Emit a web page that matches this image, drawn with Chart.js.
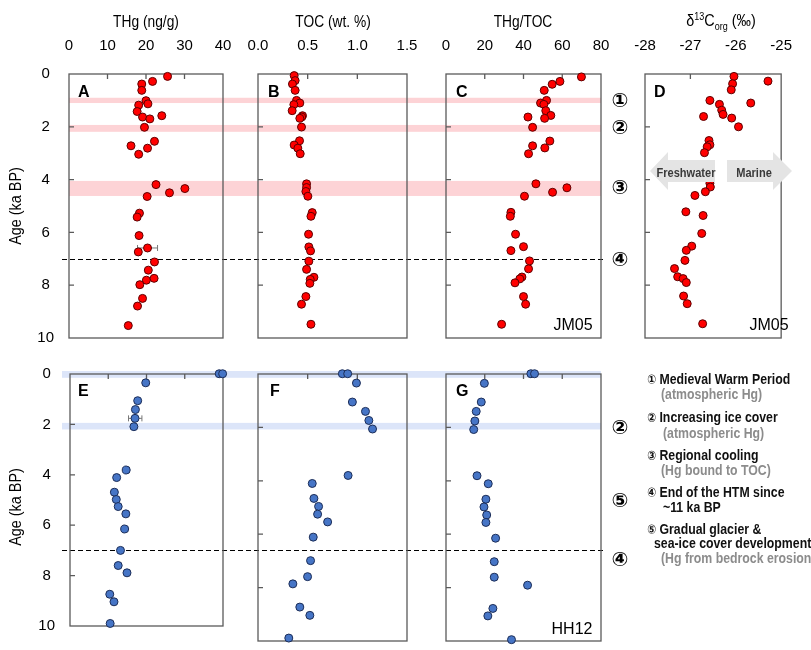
<!DOCTYPE html>
<html>
<head>
<meta charset="utf-8">
<script src="https://cdn.jsdelivr.net/npm/chart.js@4.4.0/dist/chart.umd.min.js"></script>
<style>
  body { margin: 0; background: #fff; }
  #fig { position: relative; width: 811px; height: 650px; overflow: hidden;
         font-family: "Liberation Sans Narrow", "Arial Narrow", "Liberation Sans", Arial, sans-serif; }
  #fig canvas { position: absolute; left: 0; top: 0; }
  .t { position: absolute; white-space: nowrap; line-height: 1; }
  .title { font-size: 16px; color: #000; }
  .panel { font-family: "Liberation Sans", Arial, sans-serif; font-weight: bold; font-size: 16px; }
  .core { font-family: "Liberation Sans", Arial, sans-serif; font-size: 16px; }
  .circ { font-family: "DejaVu Sans", sans-serif; font-size: 20px; font-weight: bold; }
  .leg { font-size: 15px; font-weight: bold; color: #111; }
  .leg .n { font-family: "DejaVu Sans", sans-serif; font-size: 13px; }
  .gray { color: #8c8c8c; }
  .arrow { position: absolute; background: #e4e4e4; }
  .arrtxt { font-size: 13px; font-weight: bold; color: #3a3a3a; }
</style>
</head>
<body>
<div id="fig"></div>
<script>
// ---- JM05 core (top row) ----
const ageA = [0.09, 0.28, 0.38, 0.62, 1.01, 1.13, 1.18, 1.42, 1.63, 1.70, 1.58, 2.02, 2.55, 2.72, 2.81, 3.04,
  4.19, 4.34, 4.50, 4.64, 5.27, 5.42, 6.12, 6.59, 6.74, 7.12, 7.43, 7.74, 7.81, 7.98, 8.50, 8.79, 9.53];
const thgA = [25.6, 21.7, 18.9, 18.9, 20.0, 20.5, 18.1, 17.7, 19.1, 21.0, 24.1, 19.6, 22.2, 16.1, 20.4, 18.1,
  22.6, 30.1, 26.1, 20.3, 18.3, 17.7, 18.2, 20.4, 18.0, 22.2, 20.6, 22.1, 20.1, 18.4, 19.1, 17.8, 15.4];
const errA = [[6.59, 17.8, 23.0]];

const ageB = [0.06, 0.25, 0.38, 0.62, 1.00, 1.10, 1.16, 1.39, 1.58, 1.63, 1.68, 2.01, 2.53, 2.69, 2.81, 3.02,
  4.16, 4.30, 4.45, 4.63, 5.25, 5.39, 6.07, 6.55, 6.70, 7.09, 7.40, 7.70, 7.78, 7.93, 8.43, 8.72, 9.48];
const tocB = [0.364, 0.374, 0.347, 0.374, 0.388, 0.421, 0.361, 0.344, 0.448, 0.44, 0.421, 0.438, 0.418, 0.364, 0.401, 0.425,
  0.489, 0.489, 0.482, 0.502, 0.546, 0.533, 0.509, 0.512, 0.529, 0.512, 0.489, 0.563, 0.526, 0.522, 0.482, 0.438, 0.533];

const ageC = [0.11, 0.28, 0.39, 0.62, 1.00, 1.10, 1.15, 1.39, 1.57, 1.68, 1.63, 2.02, 2.54, 2.72, 2.80, 3.02,
  4.16, 4.31, 4.48, 4.63, 5.24, 5.39, 6.07, 6.54, 6.69, 7.08, 7.38, 7.69, 7.76, 7.91, 8.43, 8.72, 9.48];
const ratioC = [69.9, 58.8, 54.8, 50.7, 51.9, 48.8, 50.5, 51.5, 54.1, 50.9, 42.3, 44.7, 53.6, 44.7, 51.0, 42.6,
  46.4, 62.4, 55.0, 40.5, 33.5, 33.2, 35.9, 40.0, 33.5, 43.1, 42.6, 39.2, 38.1, 35.6, 40.0, 41.1, 28.7];

const ageD = [0.09, 0.27, 0.37, 0.60, 1.00, 1.10, 1.15, 1.37, 1.53, 1.61, 1.67, 2.00, 2.52, 2.68, 2.76, 2.98,
  4.14, 4.28, 4.46, 4.60, 5.22, 5.36, 6.04, 6.52, 6.68, 7.06, 7.37, 7.68, 7.75, 7.90, 8.41, 8.70, 9.46];
const d13cD = [-26.04, -25.29, -26.07, -26.10, -26.57, -25.67, -26.36, -26.31, -26.28, -26.71, -26.09, -25.94,
  -26.59, -26.57, -26.63, -26.69, -26.57, -26.56, -26.67, -26.90, -27.10, -26.72, -26.75, -26.97, -27.09,
  -27.12, -27.35, -27.28, -27.16, -27.09, -27.15, -27.07, -26.73];

// ---- HH12 core (bottom row) ----
const ageE = [-0.01, -0.01, 0.35, 1.06, 1.41, 1.76, 2.09, 3.81, 4.11, 4.69, 4.98, 5.26, 5.55, 6.15, 7.00, 7.60, 7.89, 8.74, 9.04, 9.90];
const thgE = [39.0, 39.9, 19.8, 17.7, 17.1, 17.0, 16.7, 14.7, 12.2, 11.6, 12.1, 12.6, 14.6, 14.3, 13.2, 12.6, 14.9, 10.4, 11.5, 10.5];
const errE = [[1.76, 15.3, 18.8]];

const ageF = [-0.01, -0.01, 0.34, 1.05, 1.40, 1.74, 2.06, 3.80, 4.10, 4.66, 4.96, 5.25, 5.54, 6.11, 6.99, 7.59, 7.86, 8.73, 9.04, 9.89];
const tocF = [0.849, 0.903, 0.991, 0.950, 1.082, 1.116, 1.153, 0.907, 0.546, 0.563, 0.610, 0.600, 0.701, 0.556, 0.529, 0.499, 0.351, 0.421, 0.522, 0.310];

const ageG = [-0.01, -0.01, 0.35, 1.05, 1.40, 1.76, 2.08, 3.81, 4.11, 4.69, 4.98, 5.28, 5.56, 6.15, 7.03, 7.61, 7.91, 8.78, 9.06, 9.95];
const ratioG = [43.8, 45.7, 19.8, 18.2, 15.6, 14.9, 14.3, 16.0, 21.8, 20.6, 19.6, 21.0, 20.6, 25.6, 24.9, 24.9, 42.1, 24.2, 21.6, 33.8];

// event bands (ka BP) and end of HTM
const pinkBands = [[0.9, 1.1], [1.93, 2.19], [4.05, 4.62]];
const blueBands = [[-0.12, 0.15], [1.94, 2.2]];
const htmEnd = 7;

const fig = document.getElementById("fig");
const RED = { fill: "#ff0000", line: "#5c0000" };
const BLUE = { fill: "#4675c6", line: "#1c2d57" };

const decor = {
  id: "decor",
  beforeDatasetsDraw(chart, args, o) {
    const { ctx, chartArea: a, scales: { x, y } } = chart;
    ctx.save();
    (o.bands || []).forEach(([y0, y1]) => {
      const p0 = y.getPixelForValue(y0), p1 = y.getPixelForValue(y1);
      ctx.fillStyle = o.bandColor;
      ctx.fillRect(o.bandX[0], p0, o.bandX[1] - o.bandX[0], p1 - p0);
    });
    if (o.dashAt != null) {
      const py = Math.round(y.getPixelForValue(o.dashAt)) + 0.5;
      ctx.strokeStyle = "#000";
      ctx.lineWidth = 1.2;
      ctx.setLineDash([5, 3]);
      ctx.beginPath();
      ctx.moveTo(o.dashX[0], py);
      ctx.lineTo(o.dashX[1], py);
      ctx.stroke();
      ctx.setLineDash([]);
    }
    ctx.strokeStyle = "#5a5a5a";
    ctx.lineWidth = 1.3;
    ctx.strokeRect(a.left, a.top, a.right - a.left, a.bottom - a.top);
    ctx.beginPath();
    x.ticks.forEach((t) => {
      if (t.value > x.min && t.value < x.max) {
        const px = x.getPixelForValue(t.value);
        ctx.moveTo(px, a.top);
        ctx.lineTo(px, a.top + 5);
      }
    });
    y.ticks.forEach((t) => {
      if (t.value > y.min && t.value < y.max) {
        const py = y.getPixelForValue(t.value);
        ctx.moveTo(a.left, py);
        ctx.lineTo(a.left + 5, py);
      }
    });
    ctx.stroke();
    // error bars
    ctx.strokeStyle = "#777";
    ctx.lineWidth = 1;
    (o.errors || []).forEach(([age, lo, hi]) => {
      const py = y.getPixelForValue(age);
      const x0 = x.getPixelForValue(lo), x1 = x.getPixelForValue(hi);
      ctx.beginPath();
      ctx.moveTo(x0, py); ctx.lineTo(x1, py);
      ctx.moveTo(x0, py - 3); ctx.lineTo(x0, py + 3);
      ctx.moveTo(x1, py - 3); ctx.lineTo(x1, py + 3);
      ctx.stroke();
    });
    ctx.restore();
  },
};

function makePanel(p) {
  const canvas = document.createElement("canvas");
  canvas.width = 811;
  canvas.height = 650;
  fig.appendChild(canvas);
  const [L, T, R, B] = p.box;
  const YW = 40, XH = 45;
  return new Chart(canvas, {
    type: "scatter",
    data: {
      datasets: [{
        data: p.ages.map((a, i) => ({ x: p.vals[i], y: a })),
        backgroundColor: p.color.fill,
        borderColor: p.color.line,
        pointRadius: 4,
        pointBorderWidth: 1,
        clip: false,
      }],
    },
    options: {
      responsive: false,
      animation: false,
      devicePixelRatio: 1,
      layout: { padding: { left: L - YW, top: T - XH, right: 811 - R, bottom: 650 - B } },
      plugins: { legend: { display: false }, tooltip: { enabled: false }, decor: p.decor || {} },
      scales: {
        x: {
          type: "linear", position: "top", min: p.min, max: p.max,
          ticks: {
            stepSize: p.step, display: p.showX, padding: 19, color: "#000",
            font: { size: 15 }, maxRotation: 0, autoSkip: false,
            callback: p.fmt || ((v) => v),
          },
          grid: { display: false, drawTicks: false },
          border: { display: false },
          afterFit: (s) => { s.height = XH; },
        },
        y: {
          type: "linear", position: "left", min: 0, max: 10, reverse: true,
          ticks: { stepSize: 2, display: !!p.showY, padding: 15, crossAlign: "center", color: "#000", font: { size: 15 } },
          grid: { display: false, drawTicks: false },
          border: { display: false },
          afterFit: (s) => { s.width = YW; },
        },
      },
    },
    plugins: [decor],
  });
}

Chart.defaults.font.family = '"Liberation Sans Narrow", "Arial Narrow", "Liberation Sans", Arial, sans-serif';

makePanel({ box: [69, 74, 223, 338], min: 0, max: 40, step: 10, showX: true, showY: true, ages: ageA, vals: thgA, color: RED,
  decor: { bands: pinkBands, bandColor: "#fdd3d6", bandX: [69, 601], dashAt: htmEnd, dashX: [62, 603], errors: errA } });
makePanel({ box: [258, 74, 407, 338], min: 0, max: 1.5, step: 0.5, showX: true, ages: ageB, vals: tocB, color: RED,
  fmt: (v) => v.toFixed(1) });
makePanel({ box: [446, 74, 601, 338], min: 0, max: 80, step: 20, showX: true, ages: ageC, vals: ratioC, color: RED });
makePanel({ box: [645, 74, 796, 338], min: -28, max: -25, step: 1, showX: true, ages: ageD, vals: d13cD, color: RED });
makePanel({ box: [70, 374, 223, 641], min: 0, max: 40, step: 10, showX: false, showY: true, ages: ageE, vals: thgE, color: BLUE,
  decor: { bands: blueBands, bandColor: "#dce5f9", bandX: [62, 601], dashAt: htmEnd, dashX: [62, 603], errors: errE } });
makePanel({ box: [258, 374, 407, 641], min: 0, max: 1.5, step: 0.5, showX: false, ages: ageF, vals: tocF, color: BLUE });
makePanel({ box: [446, 374, 601, 641], min: 0, max: 80, step: 20, showX: false, ages: ageG, vals: ratioG, color: BLUE });

// ---- text ----
function txt(html, x, y, cls, anchor, squeeze) {
  const d = document.createElement("div");
  d.className = "t " + (cls || "");
  d.innerHTML = html;
  d.style.left = x + "px";
  d.style.top = y + "px";
  const sx = squeeze ? ` scaleX(${squeeze})` : "";
  if (anchor === "l") {
    d.style.transformOrigin = "0 50%";
    d.style.transform = "translate(0,-50%)" + sx;
  } else {
    d.style.transform = "translate(-50%,-50%)" + sx;
  }
  fig.appendChild(d);
  return d;
}

txt("THg (ng/g)", 146, 22, "title", "c", 0.86);
txt("TOC (wt. %)", 333, 22, "title", "c", 0.86);
txt("THg/TOC", 523, 22, "title", "c", 0.86);
txt('&delta;<sup style="font-size:10px">13</sup>C<sub style="font-size:10px">org</sub> (&permil;)', 721, 22, "title", "c", 0.9);

const ay1 = txt("Age (ka BP)", 16, 206, "title");
ay1.style.transform = "translate(-50%,-50%) rotate(-90deg) scaleX(0.9)";
const ay2 = txt("Age (ka BP)", 16, 507, "title");
ay2.style.transform = "translate(-50%,-50%) rotate(-90deg) scaleX(0.9)";

txt("A", 78, 91.5, "panel", "l");
txt("B", 268, 91.5, "panel", "l");
txt("C", 456, 91.5, "panel", "l");
txt("D", 654, 91.5, "panel", "l");
txt("E", 78, 390.5, "panel", "l");
txt("F", 270, 390.5, "panel", "l");
txt("G", 456, 390.5, "panel", "l");
txt("JM05", 573, 325, "core");
txt("JM05", 769, 325, "core");
txt("HH12", 572, 629, "core");

[["&#9312;", 100], ["&#9313;", 127], ["&#9314;", 187], ["&#9315;", 259], ["&#9313;", 427], ["&#9316;", 500], ["&#9315;", 559]]
  .forEach(([s, y]) => txt(s, 620, y, "circ"));

// freshwater / marine arrows
function arrow(x0, x1, head, dir) {
  const d = document.createElement("div");
  d.className = "arrow";
  d.style.left = x0 + "px";
  d.style.top = "152px";
  d.style.width = (x1 - x0) + "px";
  d.style.height = "38px";
  const w = x1 - x0, h = head;
  d.style.clipPath = dir < 0
    ? `polygon(0 50%, ${h}px 0, ${h}px 21%, 100% 21%, 100% 79%, ${h}px 79%, ${h}px 100%)`
    : `polygon(0 21%, ${w - h}px 21%, ${w - h}px 0, 100% 50%, ${w - h}px 100%, ${w - h}px 79%, 0 79%)`;
  fig.appendChild(d);
}
arrow(650, 715, 18, -1);
arrow(727, 792, 19, 1);
txt("Freshwater", 686, 172, "arrtxt", "c", 0.85);
txt("Marine", 754, 172, "arrtxt", "c", 0.85);

// legend
const legend = [
  ['<span class="n">&#9312;</span> Medieval Warm Period', 647, 378, ""],
  ["(atmospheric Hg)", 661, 393, "gray"],
  ['<span class="n">&#9313;</span> Increasing ice cover', 647, 416, ""],
  ["(atmospheric Hg)", 663, 432, "gray"],
  ['<span class="n">&#9314;</span> Regional cooling', 647, 454, ""],
  ["(Hg bound to TOC)", 661, 469, "gray"],
  ['<span class="n">&#9315;</span> End of the HTM since', 647, 491, ""],
  ["~11 ka BP", 663, 506, ""],
  ['<span class="n">&#9316;</span> Gradual glacier &amp;', 647, 528, ""],
  ["sea-ice cover development", 654, 542, ""],
  ["(Hg from bedrock erosion)", 661, 557, "gray"],
];
legend.forEach(([s, x, y, c]) => txt(s, x, y, "leg " + c, "l", 0.82));
</script>
</body>
</html>
